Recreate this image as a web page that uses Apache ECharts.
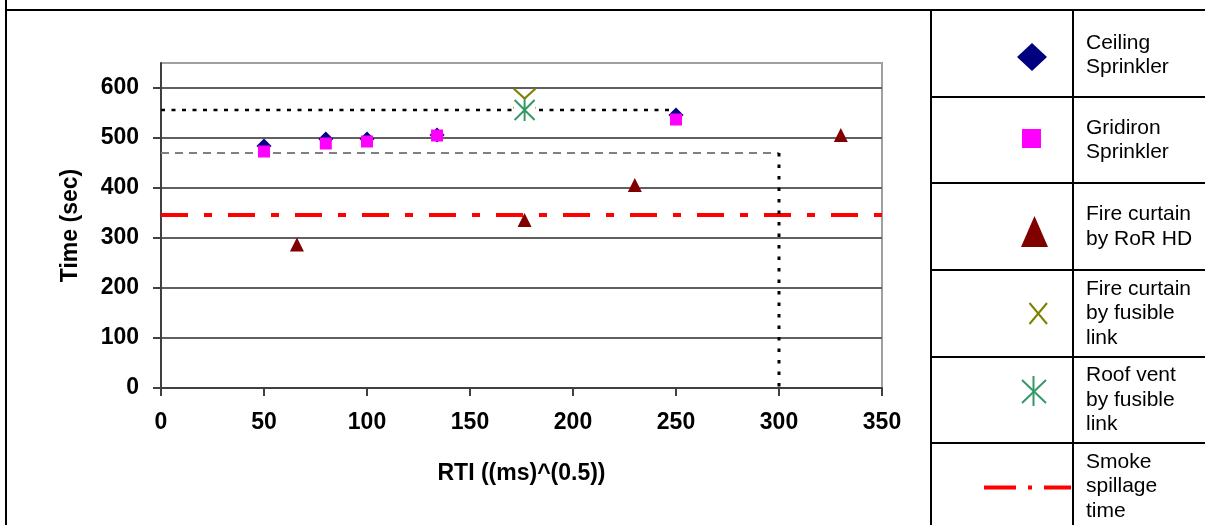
<!DOCTYPE html>
<html>
<head>
<meta charset="utf-8">
<title>Activation time vs RTI</title>
<script src="https://cdn.jsdelivr.net/npm/echarts@6/dist/echarts.min.js"></script>
<style>
  html, body { margin: 0; padding: 0; background: #fff; }
  #chart { width: 1205px; height: 525px; }
</style>
</head>
<body>
<div id="chart"></div>
<script>
// Activation times (sec) against RTI ((ms)^0.5)
const ceilingSprinkler = [[50, 484], [80, 498], [100, 498], [134, 506], [250, 546]];
const gridironSprinkler = [[50, 473], [80, 489], [100, 493], [134, 505], [250, 537]];
const curtainRoR = [[66, 287], [176.5, 336], [230, 406], [330, 506]];
const curtainFusible = [[176.5, 579]];
const roofVentFusible = [[176.5, 556]];
const smokeSpillage = [[0, 346], [350, 346]];

// guide lines
const sprinklerGuide = [[0, 556], [250, 556]];
const curtainGuideH = [[0, 470], [300, 470]];
const curtainGuideV = [[300, 470], [300, 0]];

// axis ticks
const yTicks = [0, 100, 200, 300, 400, 500, 600];

// legend rows
const legendLabels = [
  'Ceiling\nSprinkler',
  'Gridiron\nSprinkler',
  'Fire curtain\nby RoR HD',
  'Fire curtain\nby fusible\nlink',
  'Roof vent\nby fusible\nlink',
  'Smoke\nspillage\ntime'
];

const FONT = "'Liberation Sans', Arial, sans-serif";
const AXIS_COLOR = '#404040';

const asteriskIcon = 'image://data:image/svg+xml;charset=utf-8,' + encodeURIComponent(
  '<svg xmlns="http://www.w3.org/2000/svg" width="22" height="22" viewBox="0 0 22 22">' +
  '<rect width="22" height="22" fill="#ffffff"/>' +
  '<path d="M11 0V22M1 1L21 21M21 1L1 21" stroke="#339966" stroke-width="2" fill="none"/>' +
  '</svg>'
);

function guideLine(data, color, width, dash) {
  return {
    type: 'line', data: data, symbol: 'none', silent: true,
    lineStyle: { color: color, width: width, type: dash, opacity: 1 },
    z: 1
  };
}

// legend table on the right
const rowTops = [10, 97, 183, 270, 357, 443, 530];
const colA = 931, colB = 1073;
const legendGraphics = [];
const black = { stroke: '#000', lineWidth: 2 };
legendGraphics.push({ type: 'line', shape: { x1: 6, y1: 0, x2: 6, y2: 525 }, style: black });
legendGraphics.push({ type: 'line', shape: { x1: 6, y1: 10, x2: 1205, y2: 10 }, style: black });
legendGraphics.push({ type: 'line', shape: { x1: colA, y1: 10, x2: colA, y2: 525 }, style: black });
legendGraphics.push({ type: 'line', shape: { x1: colB, y1: 10, x2: colB, y2: 525 }, style: black });
for (let i = 1; i < rowTops.length - 1; i++) {
  legendGraphics.push({ type: 'line', shape: { x1: colA, y1: rowTops[i], x2: 1205, y2: rowTops[i] }, style: black });
}
legendLabels.forEach(function (label, i) {
  const cy = (rowTops[i] + Math.min(rowTops[i + 1], 530)) / 2 + (i === 0 ? 1.5 : 0);
  legendGraphics.push({
    type: 'text', x: 1086, y: cy,
    style: {
      text: label, fill: '#000', font: '21px ' + FONT,
      lineHeight: 24.5, verticalAlign: 'middle', align: 'left'
    }
  });
});
// legend keys
legendGraphics.push({ type: 'polygon', shape: { points: [[1032, 43], [1047, 57], [1032, 71], [1017, 57]] }, style: { fill: '#000080' } });
legendGraphics.push({ type: 'rect', shape: { x: 1022, y: 129, width: 19, height: 19 }, style: { fill: '#ff00ff' } });
legendGraphics.push({ type: 'polygon', shape: { points: [[1034.5, 216], [1048, 247], [1021, 247]] }, style: { fill: '#800000' } });
legendGraphics.push({ type: 'line', shape: { x1: 1029.5, y1: 303, x2: 1047, y2: 324 }, style: { stroke: '#808000', lineWidth: 2 } });
legendGraphics.push({ type: 'line', shape: { x1: 1047, y1: 303, x2: 1029.5, y2: 324 }, style: { stroke: '#808000', lineWidth: 2 } });
legendGraphics.push({ type: 'line', shape: { x1: 1033.5, y1: 376, x2: 1033.5, y2: 406 }, style: { stroke: '#339966', lineWidth: 2 } });
legendGraphics.push({ type: 'line', shape: { x1: 1022, y1: 380, x2: 1046, y2: 403 }, style: { stroke: '#339966', lineWidth: 2 } });
legendGraphics.push({ type: 'line', shape: { x1: 1046, y1: 380, x2: 1022, y2: 403 }, style: { stroke: '#339966', lineWidth: 2 } });
legendGraphics.push({ type: 'line', shape: { x1: 984, y1: 487.5, x2: 1071, y2: 487.5 }, style: { stroke: '#ff0000', lineWidth: 4, lineDash: [32, 12, 4, 12] } });

const chart = echarts.init(document.getElementById('chart'), null, { renderer: 'canvas' });
chart.setOption({
  animation: false,
  backgroundColor: '#ffffff',
  grid: {
    left: 161, right: 323, top: 63, bottom: 137,
    show: true, borderColor: '#a0a0a0', borderWidth: 2, backgroundColor: 'transparent'
  },
  xAxis: {
    type: 'value', min: 0, max: 350, interval: 50,
    name: 'RTI ((ms)^(0.5))', nameLocation: 'middle', nameGap: 74,
    nameTextStyle: { color: '#000', fontFamily: FONT, fontWeight: 'bold', fontSize: 23 },
    axisLine: { show: true, lineStyle: { color: AXIS_COLOR, width: 2 } },
    axisTick: { show: true, length: 8, lineStyle: { color: AXIS_COLOR, width: 2 } },
    axisLabel: { margin: 23, color: '#000', fontFamily: FONT, fontWeight: 'bold', fontSize: 23 },
    splitLine: { show: false }
  },
  yAxis: {
    type: 'value', min: 0, max: 650, interval: 100,
    name: 'Time (sec)', nameLocation: 'middle', nameGap: 79, nameRotate: 90,
    nameTextStyle: { color: '#000', fontFamily: FONT, fontWeight: 'bold', fontSize: 23 },
    axisLine: { show: true, lineStyle: { color: AXIS_COLOR, width: 2 } },
    axisTick: { show: true, length: 8, customValues: yTicks, lineStyle: { color: AXIS_COLOR, width: 2 } },
    axisLabel: { margin: 22, customValues: yTicks, color: '#000', fontFamily: FONT, fontWeight: 'bold', fontSize: 23 },
    splitLine: { show: true, lineStyle: { color: '#606060', width: 2 } }
  },
  series: [
    guideLine(smokeSpillage, '#ff0000', 4, [27, 16, 8, 16]),
    guideLine(sprinklerGuide, '#000000', 2.5, [4, 6.5]),
    guideLine(curtainGuideH, '#808080', 2, [8, 6]),
    guideLine(curtainGuideV, '#000000', 3, [3.5, 8]),
    {
      name: 'Ceiling Sprinkler', type: 'scatter', data: ceilingSprinkler,
      symbol: 'diamond', symbolSize: [15, 15], itemStyle: { color: '#000080', opacity: 1 }, z: 3
    },
    {
      name: 'Gridiron Sprinkler', type: 'scatter', data: gridironSprinkler,
      symbol: 'rect', symbolSize: 12, itemStyle: { color: '#ff00ff', opacity: 1 }, z: 3
    },
    {
      name: 'Fire curtain by RoR HD', type: 'scatter', data: curtainRoR,
      symbol: 'triangle', symbolSize: [14, 14], itemStyle: { color: '#800000', opacity: 1 }, z: 3
    },
    {
      name: 'Fire curtain by fusible link', type: 'scatter', data: curtainFusible,
      symbol: 'path://M0,0L20,20M20,0L0,20', symbolSize: [22, 20],
      itemStyle: { color: 'transparent', borderColor: '#808000', borderWidth: 2, opacity: 1 }, z: 3
    },
    {
      name: 'Roof vent by fusible link', type: 'scatter', data: roofVentFusible,
      symbol: asteriskIcon, symbolSize: 22, itemStyle: { opacity: 1 }, z: 4
    }
  ],
  graphic: { elements: [{ type: 'group', silent: true, children: legendGraphics }] }
});
</script>
</body>
</html>
